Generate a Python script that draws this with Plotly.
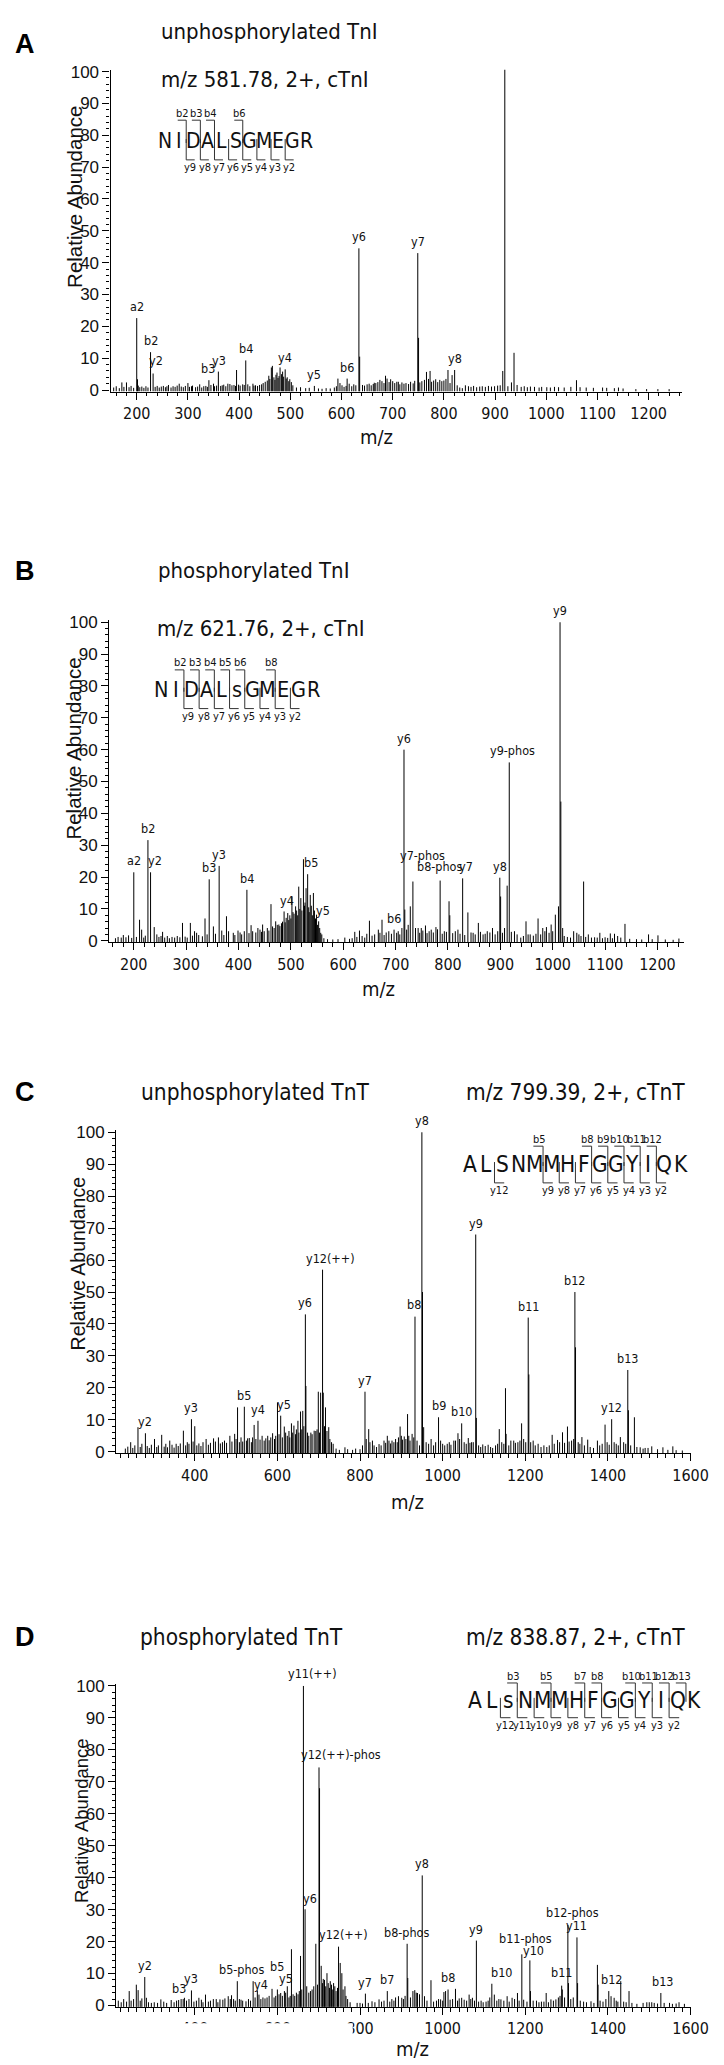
import plotly.graph_objects as go

W, H = 724, 2065
NARROW = "Liberation Sans Narrow, Arial Narrow, DejaVu Sans Condensed, Roboto Condensed, sans-serif"
ARIAL = "Liberation Sans, Arial, Helvetica, sans-serif"
INK = "#111111"

# ============================ DATA ============================
# ---------- Panel A : unphosphorylated TnI ----------
A_title = "unphosphorylated TnI"
A_prec = "m/z 581.78, 2+, cTnI"
A_seq = "NIDALSGMEGR"
A_b_ions = [2, 3, 4, 6]
A_y_ions = [9, 8, 7, 6, 5, 4, 3, 2]
A_mz = [200, 201.5, 227, 232, 341, 359.5, 395, 413, 458, 463,
        465, 480, 485, 490, 499, 547, 593, 611, 634, 635.5,
        664, 675, 686, 696, 711, 743, 749, 750.5, 766, 773,
        784, 792, 808, 816, 821, 915, 919, 932, 937, 1059]
A_int = [22.6, 3.4, 11.9, 5.2, 3.1, 5.8, 6.3, 9.3, 4.5, 7.1,
         7.6, 7.1, 5.8, 6.5, 3.4, 1.3, 3.6, 3.6, 44.5, 10.5,
         2.3, 3.2, 4.5, 3.4, 2.6, 2.9, 43.0, 16.4, 5.7, 6.0,
         3.4, 3.2, 6.3, 4.7, 6.3, 6.0, 101.0, 2.4, 11.7, 3.1]
A_noise_mz = [155, 160, 166, 171, 175, 180, 185, 189, 194, 203,
              206, 210, 214, 218, 222, 236, 240, 244, 248, 252,
              256, 259, 262, 267, 271, 275, 279, 283, 287, 291,
              295, 300, 303, 307, 309, 315, 319, 323, 327, 331,
              335, 338, 345, 350, 352, 356, 364, 367, 370, 374,
              378, 382, 386, 390, 393, 399, 402, 407, 410, 417,
              421, 427, 429, 432, 436, 440, 444, 447, 451, 455,
              460, 468, 470, 472, 474, 476, 478, 483, 487, 492,
              494, 497, 502, 505, 512, 520, 530, 537, 555, 562,
              570, 578, 586, 590, 597, 601, 605, 609, 615, 620,
              624, 628, 641, 645, 650, 654, 658, 662, 667, 671,
              679, 683, 689, 693, 700, 704, 708, 714, 718, 722,
              726, 731, 735, 740, 753, 757, 762, 770, 776, 780,
              788, 796, 800, 804, 812, 826, 831, 836, 842, 848,
              853, 858, 864, 870, 875, 881, 887, 893, 899, 905,
              910, 925, 943, 951, 957, 963, 969, 977, 986, 991,
              1001, 1008, 1016, 1024, 1035, 1048, 1066, 1078, 1092, 1110,
              1118, 1133, 1141, 1150, 1175, 1196, 1218, 1240]
A_noise_int = [0.8, 1.2, 0.6, 2.4, 1.0, 2.4, 0.9, 1.3, 0.7, 1.4,
               0.9, 1.1, 0.7, 1.2, 0.8, 1.0, 1.3, 0.8, 1.1, 1.3,
               0.9, 1.2, 1.6, 0.8, 1.2, 1.0, 1.4, 2.0, 1.1, 0.9,
               1.3, 2.2, 1.0, 1.2, 1.4, 0.9, 1.1, 1.8, 0.8, 1.2,
               1.3, 1.0, 1.6, 2.0, 1.2, 1.4, 1.3, 1.5, 1.7, 1.2,
               2.0, 1.9, 1.5, 1.6, 1.3, 1.7, 1.4, 1.8, 1.6, 1.8,
               1.2, 2.0, 1.4, 1.5, 1.3, 1.6, 1.8, 2.2, 2.6, 3.0,
               3.5, 4.0, 3.2, 4.8, 5.5, 3.8, 4.4, 5.0, 4.2, 3.6,
               4.0, 2.8, 2.5, 1.5, 0.8, 0.9, 0.6, 0.7, 0.5, 0.4,
               0.6, 0.5, 0.8, 1.2, 2.2, 1.5, 1.0, 1.3, 2.0, 1.2,
               1.8, 1.5, 1.6, 1.4, 1.8, 2.0, 1.5, 1.9, 2.2, 2.5,
               2.8, 2.2, 3.6, 2.5, 2.8, 2.2, 2.6, 1.8, 2.4, 2.0,
               2.2, 1.9, 2.6, 2.1, 2.4, 2.8, 3.2, 3.5, 2.6, 3.0,
               2.5, 2.8, 3.0, 3.5, 2.2, 1.5, 0.8, 0.6, 1.5, 1.2,
               1.0, 1.3, 0.9, 1.1, 1.2, 1.0, 1.3, 1.1, 1.2, 1.4,
               1.5, 1.2, 1.6, 1.0, 1.2, 0.9, 1.1, 1.0, 0.8, 1.0,
               0.9, 0.8, 1.0, 0.9, 0.8, 1.0, 0.9, 0.8, 0.7, 0.8,
               0.7, 0.6, 0.8, 0.5, 0.3, 0.3, 0.3, 0.3]
A_lab_mz = [200, 227, 232, 341, 359.5, 413, 490, 547, 611, 634, 749, 821, 919]
A_lab_txt = ["a2", "b2", "y2", "b3", "y3", "b4", "y4", "y5", "b6", "y6", "y7", "y8", "y9"]
A_xticks = [200, 300, 400, 500, 600, 700, 800, 900, 1000, 1100, 1200]

# ---------- Panel B : phosphorylated TnI ----------
B_title = "phosphorylated TnI"
B_prec = "m/z 621.76, 2+, cTnI"
B_seq = "NIDALsGMEGR"
B_b_ions = [2, 3, 4, 5, 6, 8]
B_y_ions = [9, 8, 7, 6, 5, 4, 3, 2]
B_mz = [200, 211, 215, 227, 232, 239, 255, 293, 308, 316,
        336, 344, 363, 377, 399, 416, 424, 437, 446, 462,
        471, 477, 487, 494, 502, 509, 515, 519, 524, 529,
        532, 537, 543, 549, 553, 559, 622, 631, 650, 667,
        674, 687, 697, 708, 716, 717.5, 728, 733, 743, 749,
        757, 768, 777, 785, 793, 802, 803.5, 814, 819, 828,
        838, 848, 858, 867, 875, 885, 899, 900.5, 908, 913,
        917, 927, 939, 949, 957, 972, 981, 988, 997, 1005,
        1011, 1014, 1015.5, 1019, 1040, 1046, 1059, 1068, 1080, 1090,
        1100, 1110, 1118, 1124, 1138, 1183, 1201, 1241]
B_int = [21.5, 6.6, 3.5, 31.6, 21.5, 4.3, 2.8, 5.6, 5.6, 3.0,
         7.0, 19.3, 23.5, 7.7, 3.2, 16.0, 4.9, 4.0, 5.1, 11.5,
         6.1, 5.1, 9.2, 8.7, 13.9, 10.8, 17.0, 13.4, 25.6, 16.5,
         20.9, 14.4, 15.0, 8.2, 6.1, 2.0, 2.8, 3.2, 6.3, 3.5,
         6.6, 3.0, 3.5, 2.0, 60.0, 9.8, 10.8, 18.6, 4.0, 4.0,
         4.8, 3.5, 4.3, 18.9, 3.0, 12.4, 8.0, 3.0, 3.5, 19.6,
         8.9, 2.5, 5.6, 2.0, 3.0, 4.0, 19.8, 13.9, 4.0, 17.3,
         56.0, 3.0, 1.0, 6.1, 2.0, 7.0, 4.0, 4.3, 5.1, 8.2,
         10.8, 100.0, 43.7, 4.0, 3.0, 2.5, 18.6, 2.0, 1.1, 2.5,
         1.1, 2.3, 2.2, 1.5, 5.3, 2.0, 1.7, 0.7]
B_noise_mz = [165, 170, 176, 180, 185, 190, 196, 205, 219, 222,
              244, 248, 252, 259, 264, 268, 273, 278, 283, 288,
              298, 302, 312, 320, 324, 331, 340, 352, 356, 368,
              372, 381, 390, 393, 403, 406, 411, 420, 427, 433,
              441, 444, 449, 455, 458, 465, 468, 474, 479, 482,
              484, 489, 491, 496, 498, 500, 504, 506, 511, 513,
              517, 521, 526, 527, 534, 535, 539, 541, 545, 547,
              551, 555, 557, 563, 570, 580, 590, 603, 612, 617,
              626, 636, 641, 645, 655, 660, 670, 678, 682, 692,
              702, 705, 712, 721, 724, 738, 746, 752, 760, 764,
              772, 780, 789, 797, 809, 823, 832, 844, 852, 862,
              871, 880, 890, 895, 904, 921, 932, 944, 953, 963,
              968, 977, 985, 993, 1000, 1022, 1028, 1034, 1050, 1054,
              1063, 1074, 1085, 1095, 1105, 1114, 1130, 1147, 1160, 1170,
              1190, 1215, 1230]
B_noise_int = [0.8, 1.2, 1.0, 1.8, 1.1, 1.7, 0.9, 1.2, 1.0, 1.6,
               2.0, 1.2, 1.5, 1.0, 1.5, 0.8, 1.2, 1.0, 1.5, 1.1,
               1.3, 1.0, 1.6, 2.5, 1.8, 1.4, 2.0, 4.5, 2.2, 3.2,
               1.8, 3.0, 2.5, 1.8, 2.6, 2.0, 3.0, 2.4, 3.0, 2.6,
               3.5, 2.8, 3.0, 4.0, 3.2, 4.5, 4.0, 5.0, 4.6, 5.5,
               6.0, 5.8, 7.2, 6.5, 8.0, 7.0, 9.0, 8.5, 9.5, 8.0,
               10.0, 9.5, 11.0, 12.0, 10.5, 9.0, 11.0, 8.0, 9.5, 7.0,
               5.0, 4.0, 2.5, 0.8, 0.5, 0.4, 0.5, 1.0, 0.6, 0.8,
               1.2, 1.5, 1.0, 2.2, 1.6, 2.0, 2.5, 1.8, 2.6, 2.2,
               2.5, 3.0, 4.0, 3.5, 5.0, 4.0, 2.5, 3.2, 2.4, 3.0,
               2.6, 3.6, 2.2, 2.8, 2.4, 2.2, 1.8, 2.6, 2.0, 2.8,
               2.2, 2.6, 2.0, 3.0, 2.5, 2.8, 2.0, 1.5, 2.0, 1.6,
               2.2, 2.0, 3.0, 2.5, 3.0, 1.5, 1.2, 1.0, 2.0, 1.5,
               1.2, 1.0, 1.0, 0.8, 0.9, 0.8, 1.0, 0.6, 0.5, 0.4,
               0.5, 0.4, 0.3]
B_lab_mz = [200, 227, 232, 344, 363, 416, 487, 532, 553, 697, 716, 733, 785, 828, 899, 917, 1014]
B_lab_txt = ["a2", "b2", "y2", "b3", "y3", "b4", "y4", "b5", "y5", "b6", "y6",
             "y7-phos", "b8-phos", "y7", "y8", "y9-phos", "y9"]
B_xticks = [200, 300, 400, 500, 600, 700, 800, 900, 1000, 1100, 1200]

# ---------- Panel C : unphosphorylated TnT ----------
C_title = "unphosphorylated TnT"
C_prec = "m/z 799.39, 2+, cTnT"
C_seq = "ALSNMMHFGGYIQK"
C_b_ions = [5, 8, 9, 10, 11, 12]
C_y_ions = [12, 9, 8, 7, 6, 5, 4, 3, 2]
C_mz = [245, 262.6, 280.6, 302.6, 320, 339.5, 355, 372.5, 392, 400,
        427.5, 445.5, 457.3, 485, 496.6, 503.6, 520, 532, 543.7, 553,
        563, 576.6, 588.4, 600.2, 608, 616.7, 634, 640, 649.7, 656,
        661.4, 667.7, 669, 681, 689, 699, 704.6, 709.3, 711, 716.4,
        724.3, 763.5, 789.4, 812, 821, 830, 858, 866, 877.4, 897,
        907, 915, 926, 933, 949.7, 951.2, 954, 972, 990, 995,
        1011, 1027, 1037, 1046, 1062, 1070, 1080, 1081.5, 1097, 1121,
        1137, 1152, 1153.5, 1172, 1182, 1191, 1207, 1208.5, 1219, 1231,
        1265, 1278, 1290, 1302, 1320, 1321.5, 1337, 1351, 1374.5, 1393,
        1409, 1430, 1448, 1449.5, 1464, 1478, 1490, 1506, 1533, 1557]
C_int = [3.0, 7.7, 5.8, 4.0, 5.3, 3.5, 2.5, 6.6, 10.2, 8.0,
         4.0, 4.2, 4.5, 5.0, 5.6, 13.9, 14.1, 4.3, 8.4, 9.7,
         5.0, 5.0, 5.8, 15.4, 11.3, 7.9, 8.9, 8.2, 9.7, 12.6,
         12.8, 43.0, 20.6, 6.0, 6.6, 18.8, 18.5, 57.0, 18.5, 13.9,
         7.7, 1.4, 1.0, 18.8, 7.1, 3.5, 3.5, 5.0, 3.5, 7.9,
         4.8, 11.8, 5.6, 42.3, 100.0, 50.0, 7.7, 4.0, 10.8, 3.5,
         2.5, 3.5, 5.8, 8.9, 4.3, 3.0, 68.0, 10.6, 2.3, 1.2,
         7.1, 19.9, 5.6, 3.5, 3.0, 8.9, 42.0, 24.2, 3.5, 2.5,
         5.3, 3.7, 6.1, 7.9, 50.0, 32.7, 4.6, 3.8, 3.5, 8.5,
         10.2, 4.6, 25.6, 13.0, 10.8, 1.4, 1.2, 1.7, 1.4, 1.7]
C_noise_mz = [232, 238, 250, 255, 268, 272, 285, 290, 295, 308,
              312, 326, 330, 334, 345, 350, 360, 365, 378, 382,
              386, 396, 405, 410, 415, 420, 433, 438, 450, 462,
              467, 472, 477, 490, 500, 508, 512, 516, 525, 528,
              537, 540, 548, 558, 568, 572, 580, 584, 593, 596,
              604, 612, 620, 624, 628, 630, 637, 644, 646, 652,
              659, 664, 673, 676, 684, 693, 696, 702, 714, 720,
              727, 731, 735, 742, 750, 770, 782, 800, 806, 815,
              824, 834, 840, 846, 851, 862, 870, 874, 882, 886,
              890, 893, 900, 903, 911, 918, 921, 930, 938, 944,
              960, 966, 978, 983, 1000, 1005, 1016, 1020, 1031, 1041,
              1052, 1057, 1066, 1074, 1087, 1092, 1103, 1110, 1116, 1128,
              1133, 1143, 1148, 1160, 1165, 1176, 1187, 1196, 1201, 1213,
              1224, 1238, 1245, 1252, 1258, 1270, 1283, 1295, 1306, 1312,
              1317, 1328, 1332, 1343, 1357, 1365, 1380, 1386, 1398, 1403,
              1415, 1420, 1425, 1438, 1443, 1455, 1470, 1485, 1497, 1520,
              1545, 1565, 1580]
C_noise_int = [1.0, 1.6, 1.2, 2.0, 1.5, 2.5, 1.8, 1.2, 2.2, 1.5,
               2.0, 1.6, 2.5, 1.4, 2.2, 1.3, 1.8, 2.6, 2.0, 3.0,
               2.5, 3.2, 2.0, 2.6, 1.8, 3.0, 2.2, 2.8, 3.2, 2.6,
               3.0, 3.5, 2.8, 3.2, 4.0, 3.0, 4.5, 3.2, 3.5, 4.2,
               3.0, 4.5, 4.0, 3.8, 3.5, 4.2, 3.6, 4.5, 4.0, 5.0,
               5.5, 4.5, 6.0, 5.0, 6.5, 4.5, 6.0, 5.5, 7.0, 6.0,
               7.0, 8.0, 6.0, 5.0, 5.5, 6.5, 7.0, 6.0, 8.0, 6.5,
               4.0, 3.0, 2.5, 1.0, 0.6, 0.8, 0.6, 0.8, 2.0, 4.0,
               3.0, 2.0, 1.5, 2.4, 2.0, 2.8, 3.5, 2.6, 3.0, 4.0,
               3.0, 4.5, 5.0, 3.8, 4.0, 5.0, 3.5, 4.5, 3.5, 2.0,
               3.0, 2.5, 2.0, 3.0, 2.5, 2.0, 3.0, 2.2, 3.5, 4.0,
               3.0, 2.5, 2.8, 3.0, 2.0, 1.5, 1.8, 2.2, 1.5, 2.0,
               2.5, 3.0, 2.5, 2.0, 3.5, 2.8, 3.5, 4.0, 3.0, 3.0,
               2.0, 1.5, 2.0, 1.5, 2.0, 2.5, 3.0, 2.8, 3.2, 3.5,
               4.0, 3.0, 2.5, 2.0, 1.5, 1.2, 2.0, 2.5, 3.0, 2.2,
               3.0, 2.5, 2.0, 3.0, 2.5, 2.0, 1.5, 1.0, 1.2, 0.8,
               0.6, 0.5, 0.4]
C_lab_mz = [280.6, 392, 520, 553, 608, 667.7, 709.3, 812, 933, 949.7, 990, 1046, 1080,
            1207, 1320, 1409, 1448]
C_lab_txt = ["y2", "y3", "b5", "y4", "y5", "y6", "y12(++)", "y7", "b8", "y8", "b9", "b10", "y9",
             "b11", "b12", "y12", "b13"]
C_xticks = [400, 600, 800, 1000, 1200, 1400, 1600]

# ---------- Panel D : phosphorylated TnT ----------
D_title = "phosphorylated TnT"
D_prec = "m/z 838.87, 2+, cTnT"
D_seq = "ALsNMMHFGGYIQK"
D_b_ions = [3, 5, 7, 8, 10, 11, 12, 13]
D_y_ions = [12, 11, 10, 9, 8, 7, 6, 5, 4, 3, 2]
D_mz = [241.4, 258.6, 263, 279, 283, 318, 343, 361, 367, 375,
        392, 410, 426, 445, 461, 481, 489, 503, 524, 541.3,
        551.5, 555.4, 587, 600, 608, 617, 624, 634, 656, 663,
        667, 693, 697, 700.7, 702, 706, 711, 720, 728, 736,
        745.5, 748, 752, 756, 763.5, 793, 813, 829, 846, 866,
        893, 901, 914, 915.5, 928, 932.5, 939, 950.5, 956, 971.7,
        995, 1007, 1013, 1031, 1046, 1064, 1072, 1081.6, 1093, 1105,
        1119, 1125, 1141, 1156, 1168, 1181, 1191.6, 1211, 1212.5, 1227,
        1239, 1250.5, 1262, 1274, 1288, 1289.5, 1303, 1304.5, 1325, 1326.5,
        1341, 1359, 1374.5, 1376, 1402, 1407.5, 1415, 1431, 1451, 1494,
        1506, 1528, 1549, 1572]
D_int = [4.5, 6.5, 4.8, 8.9, 2.4, 1.9, 1.7, 1.7, 2.0, 2.4,
         4.7, 2.4, 3.4, 2.0, 1.9, 2.9, 3.2, 7.6, 1.3, 7.6,
         4.7, 3.4, 5.2, 5.0, 3.9, 4.5, 6.0, 17.6, 15.5, 100.0,
         30.1, 19.3, 6.5, 74.5, 68.0, 12.4, 8.3, 10.1, 7.6, 7.0,
         5.5, 18.4, 13.3, 10.1, 6.0, 0.8, 3.7, 1.3, 1.9, 4.5,
         2.9, 2.4, 19.3, 8.6, 4.5, 4.8, 3.9, 40.7, 2.9, 7.9,
         1.9, 4.5, 5.0, 5.2, 2.4, 3.4, 2.4, 20.3, 1.5, 1.2,
         6.8, 3.4, 1.9, 2.9, 2.4, 3.9, 16.0, 14.1, 4.5, 1.5,
         1.2, 3.9, 1.9, 1.9, 6.2, 5.0, 25.2, 7.0, 21.3, 7.0,
         1.2, 1.3, 12.7, 6.5, 4.5, 2.9, 2.4, 7.6, 4.5, 1.0,
         1.0, 3.9, 0.8, 1.0]
D_noise_mz = [215, 222, 228, 235, 246, 252, 268, 272, 288, 295,
              302, 310, 325, 332, 350, 356, 372, 380, 386, 398,
              404, 416, 420, 433, 438, 452, 456, 468, 473, 486,
              494, 498, 508, 512, 516, 530, 535, 546, 560, 565,
              570, 575, 580, 592, 596, 604, 612, 620, 628, 631,
              638, 642, 646, 650, 653, 659, 671, 676, 680, 684,
              688, 709, 714, 717, 723, 726, 731, 734, 739, 742,
              759, 766, 770, 776, 800, 806, 820, 836, 852, 858,
              872, 877, 882, 886, 905, 909, 922, 936, 944, 962,
              978, 985, 990, 1000, 1003, 1018, 1024, 1036, 1040, 1052,
              1058, 1068, 1077, 1087, 1098, 1110, 1114, 1131, 1136, 1148,
              1161, 1174, 1185, 1196, 1204, 1219, 1233, 1245, 1256, 1268,
              1280, 1284, 1295, 1310, 1316, 1333, 1348, 1366, 1381, 1388,
              1395, 1420, 1424, 1438, 1444, 1458, 1470, 1485, 1500, 1512,
              1520, 1536, 1556, 1565, 1585]
D_noise_int = [1.5, 1.0, 2.0, 1.2, 1.5, 2.0, 1.5, 2.2, 1.0, 0.8,
               1.0, 0.8, 1.2, 0.8, 1.0, 1.5, 2.0, 1.5, 2.0, 1.2,
               1.5, 1.8, 1.0, 1.2, 1.5, 2.0, 1.0, 1.8, 2.2, 2.0,
               2.0, 1.5, 2.0, 1.8, 1.5, 2.0, 1.5, 2.5, 2.0, 2.5,
               2.2, 2.5, 3.0, 2.5, 3.0, 3.5, 3.0, 4.0, 2.5, 3.0,
               3.5, 3.0, 4.0, 3.5, 4.5, 5.0, 6.0, 4.0, 4.5, 5.0,
               6.0, 7.0, 8.0, 6.0, 7.0, 5.5, 6.5, 5.0, 6.0, 4.5,
               5.0, 3.0, 2.0, 1.0, 0.8, 0.6, 0.8, 1.0, 1.2, 1.5,
               1.2, 2.0, 1.5, 2.5, 2.0, 3.0, 2.5, 4.0, 3.5, 1.5,
               1.2, 1.5, 2.0, 1.5, 4.2, 1.8, 2.0, 1.5, 2.2, 1.8,
               1.5, 2.0, 1.5, 1.2, 1.0, 1.5, 2.5, 1.5, 2.0, 1.5,
               1.2, 2.0, 1.5, 1.8, 1.2, 1.5, 1.0, 1.2, 1.0, 1.5,
               2.5, 3.0, 2.5, 2.0, 2.5, 1.5, 1.0, 0.8, 1.5, 1.2,
               2.0, 1.5, 1.2, 1.2, 1.0, 0.8, 0.5, 0.8, 1.0, 0.8,
               0.6, 0.8, 0.5, 0.6, 0.5]
D_lab_mz = [279, 361, 392, 503, 551.5, 600, 617, 663, 667, 700.7, 748, 813, 866, 914,
            950.5, 1013, 1081.6, 1119, 1191.6, 1211, 1288, 1303, 1325, 1402, 1528]
D_lab_txt = ["y2", "b3", "y3", "b5-phos", "y4", "b5", "y5", "y11(++)", "y6", "y12(++)-phos",
             "y12(++)", "y7", "b7", "b8-phos", "y8", "b8", "y9", "b10", "b11-phos", "y10",
             "b11", "b12-phos", "y11", "b12", "b13"]
D_xticks = [400, 600, 800, 1000, 1200, 1400, 1600]

Y_ticks = [0, 10, 20, 30, 40, 50, 60, 70, 80, 90, 100]

# ============================ LAYOUT / STYLE ============================
PANELS = {
    "A": dict(mz=A_mz, it=A_int, nmz=A_noise_mz, nit=A_noise_int, lmz=A_lab_mz, ltx=A_lab_txt,
              seq=A_seq, b=A_b_ions, y=A_y_ions, title=A_title, prec=A_prec, xt=A_xticks),
    "B": dict(mz=B_mz, it=B_int, nmz=B_noise_mz, nit=B_noise_int, lmz=B_lab_mz, ltx=B_lab_txt,
              seq=B_seq, b=B_b_ions, y=B_y_ions, title=B_title, prec=B_prec, xt=B_xticks),
    "C": dict(mz=C_mz, it=C_int, nmz=C_noise_mz, nit=C_noise_int, lmz=C_lab_mz, ltx=C_lab_txt,
              seq=C_seq, b=C_b_ions, y=C_y_ions, title=C_title, prec=C_prec, xt=C_xticks),
    "D": dict(mz=D_mz, it=D_int, nmz=D_noise_mz, nit=D_noise_int, lmz=D_lab_mz, ltx=D_lab_txt,
              seq=D_seq, b=D_b_ions, y=D_y_ions, title=D_title, prec=D_prec, xt=D_xticks),
}

GEO = {
    "A": dict(xr=(149, 1266), xcal=((200, 132.0), (1200, 657.0)), y0=378, y100=57, mdt=20,
              letter=(17, 29), title=(155, 17), prec=(155, 65), ts=22,
              ylab=(68, 183, 20.5),
              seq=dict(x0=161, dx=14.5, yb=99, yl=127, yy=154, fs=21), xlab=(378, 425)),
    "B": dict(xr=(153, 1250), xcal=((200, 129.0), (1200, 666.0)), y0=933, y100=612, mdt=20,
              letter=(17, 560), title=(152, 560), prec=(151, 618), ts=22,
              ylab=(67, 739, 20.5),
              seq=dict(x0=157, dx=15.6, yb=653, yl=680, yy=707, fs=21.5), xlab=(380, 982)),
    "C": dict(xr=(210, 1600), xcal=((210, 111.0), (1600, 700.0)), y0=1448, y100=1126, mdt=20,
              letter=(17, 1085), title=(134, 1085), prec=(468, 1085), ts=22.5,
              ylab=(72, 1259, 19.5),
              seq=dict(x0=474, dx=16.6, yb=1133, yl=1158, yy=1185, fs=22.5), xlab=(410, 1499)),
    "D": dict(xr=(210, 1600), xcal=((210, 111.0), (1600, 700.0)), y0=2006, y100=1684, mdt=20,
              letter=(17, 1635), title=(133, 1635), prec=(468, 1635), ts=22.5,
              ylab=(76, 1820, 18.5),
              seq=dict(x0=479, dx=17.3, yb=1674, yl=1698, yy=1724, fs=22.5), xlab=(415, 2050)),
}

LABEL_SHIFT = {
    "A": {"y2": (3, 4), "b3": (-1, 2), "y3": (1, 2), "y9": (6, 2)},
    "B": {"y2": (4, 2), "y4": (3, 1), "b5": (3, 2), "y5": (4, 1), "y7-phos": (10, 17),
          "b8-phos": (0, 5), "y7": (3, 2), "y9-phos": (3, 2)},
    "C": {"y5": (3, 2), "y12(++)": (8, 2), "b8": (-1, 3)},
    "D": {"b5-phos": (5, 2), "y4": (4, -4), "b5": (0, 13), "y5": (2, 3), "y11(++)": (9, 3),
          "y6": (5, 1), "y12(++)-phos": (22, 3), "y12(++)": (5, 3), "b10": (10, 2),
          "b11-phos": (4, 6), "y10": (4, 0), "b11": (0, 4), "b12-phos": (5, 3), "b12": (3, 2),
          "b13": (2, 2)},
}

YR = (-0.45, 100.6)
BASE = YR[0]


def px(x):
    return x / W


def py(y):
    return 1 - y / H


fig = go.Figure()
annotations = []
shapes = []

for i, key in enumerate(["A", "B", "C", "D"], start=1):
    d = PANELS[key]
    g = GEO[key]
    xa = "x" if i == 1 else f"x{i}"
    ya = "y" if i == 1 else f"y{i}"

    # ---- domains from pixel calibration ----
    (m1, p1), (m2, p2) = g["xcal"]
    ppu = (p2 - p1) / (m2 - m1)
    left = p1 + (g["xr"][0] - m1) * ppu
    right = p1 + (g["xr"][1] - m1) * ppu
    ypu = (g["y0"] - g["y100"]) / 100.0
    top = g["y0"] - YR[1] * ypu
    bottom = g["y0"] - YR[0] * ypu

    # ---- stick spectrum ----
    xs, ys = [], []
    for m, h in list(zip(d["nmz"], d["nit"])) + list(zip(d["mz"], d["it"])):
        xs += [m, m, None]
        ys += [BASE, h, None]
    fig.add_trace(go.Scatter(x=xs, y=ys, mode="lines", line=dict(color="#000000", width=1),
                             xaxis=xa, yaxis=ya, hoverinfo="skip", showlegend=False))

    axis_common = dict(showline=True, linecolor="#000000", linewidth=1.3, ticks="outside",
                       tickcolor="#000000", tickwidth=1.2, showgrid=False, zeroline=False,
                       fixedrange=True)
    fig.update_layout(**{
        ("xaxis" if i == 1 else f"xaxis{i}"): dict(
            axis_common, domain=[px(left), px(right)], range=list(g["xr"]), anchor=ya,
            tickmode="array", tickvals=d["xt"], ticktext=[str(v) for v in d["xt"]], ticklen=7,
            minor=dict(dtick=g["mdt"], tick0=0, ticks="outside", ticklen=3.5, tickcolor="#000000",
                       tickwidth=1),
            tickfont=dict(family=NARROW, size=16, color=INK)),
        ("yaxis" if i == 1 else f"yaxis{i}"): dict(
            axis_common, domain=[py(bottom), py(top)], range=list(YR), anchor=xa,
            tickmode="array", tickvals=Y_ticks, ticklen=7,
            minor=dict(dtick=2, tick0=0, ticks="outside", ticklen=3.5, tickcolor="#000000",
                       tickwidth=1),
            tickfont=dict(family=ARIAL, size=17, color=INK)),
    })

    # ---- peak labels ----
    shifts = LABEL_SHIFT.get(key, {})
    for m, t in zip(d["lmz"], d["ltx"]):
        h = max(v for mm, v in zip(d["mz"], d["it"]) if abs(mm - m) < 0.8)
        sx, sy = shifts.get(t, (0, 2))
        annotations.append(dict(x=m, y=min(h, 101), xref=xa, yref=ya, text=t, showarrow=False,
                                xanchor="center", yanchor="bottom", xshift=sx, yshift=sy,
                                font=dict(family=NARROW, size=12.5, color=INK)))

    # ---- panel letter, titles ----
    annotations.append(dict(x=px(g["letter"][0]), y=py(g["letter"][1]), xref="paper", yref="paper",
                            text=f"<b>{key}</b>", showarrow=False, xanchor="center", yanchor="middle",
                            font=dict(family=ARIAL, size=27, color="#000000")))
    for txt, pos in ((d["title"], g["title"]), (d["prec"], g["prec"])):
        annotations.append(dict(x=px(pos[0]), y=py(pos[1]), xref="paper", yref="paper", text=txt,
                                showarrow=False, xanchor="left", yanchor="middle",
                                font=dict(family=NARROW, size=g["ts"], color=INK)))

    # ---- axis titles ----
    lx, ly, lsz = g["ylab"]
    annotations.append(dict(x=px(lx), y=py(ly), xref="paper",
                            yref="paper", text="Relative Abundance", textangle=-90, showarrow=False,
                            xanchor="center", yanchor="middle",
                            font=dict(family=ARIAL, size=lsz, color=INK)))
    annotations.append(dict(x=px(g["xlab"][0]), y=py(g["xlab"][1]), xref="paper", yref="paper",
                            text="m/z", showarrow=False, xanchor="center", yanchor="middle",
                            font=dict(family=NARROW, size=20, color=INK)))

    # ---- sequence with fragment brackets ----
    s = g["seq"]
    n = len(d["seq"])
    for k, ch in enumerate(d["seq"]):
        annotations.append(dict(x=px(s["x0"] + k * s["dx"]), y=py(s["yl"]), xref="paper",
                                yref="paper", text=ch, showarrow=False, xanchor="center",
                                yanchor="middle", font=dict(family=NARROW, size=s["fs"], color=INK)))
    btop = s["yb"] + 7
    ybot = s["yy"] - 8
    line_style = dict(color="#333333", width=1)
    for bi in d["b"]:
        cx = s["x0"] + (bi - 0.5) * s["dx"]
        shapes.append(dict(type="line", xref="paper", yref="paper", x0=px(cx - 0.6 * s["dx"]),
                           x1=px(cx), y0=py(btop), y1=py(btop), line=line_style))
        shapes.append(dict(type="line", xref="paper", yref="paper", x0=px(cx), x1=px(cx),
                           y0=py(btop), y1=py(s["yl"] + 2), line=line_style))
        annotations.append(dict(x=px(cx - 0.25 * s["dx"]), y=py(s["yb"]), xref="paper",
                                yref="paper", text=f"b{bi}", showarrow=False, xanchor="center",
                                yanchor="middle", font=dict(family=NARROW, size=11, color=INK)))
    for yi in d["y"]:
        cx = s["x0"] + (n - yi - 0.5) * s["dx"]
        shapes.append(dict(type="line", xref="paper", yref="paper", x0=px(cx), x1=px(cx),
                           y0=py(s["yl"] - 2), y1=py(ybot), line=line_style))
        shapes.append(dict(type="line", xref="paper", yref="paper", x0=px(cx),
                           x1=px(cx + 0.6 * s["dx"]), y0=py(ybot), y1=py(ybot), line=line_style))
        annotations.append(dict(x=px(cx + 0.3 * s["dx"]), y=py(s["yy"]), xref="paper",
                                yref="paper", text=f"y{yi}", showarrow=False, xanchor="center",
                                yanchor="middle", font=dict(family=NARROW, size=11, color=INK)))

# white patch partially hiding some tick labels of panel D (as in the original figure)
shapes.append(dict(type="rect", xref="paper", yref="paper", x0=px(176), x1=px(353.5),
                   y0=py(2040), y1=py(2024), fillcolor="#ffffff", line=dict(width=0), layer="above"))

fig.update_layout(width=W, height=H, margin=dict(l=0, r=0, t=0, b=0), autosize=False,
                  paper_bgcolor="#ffffff", plot_bgcolor="#ffffff", showlegend=False,
                  annotations=annotations, shapes=shapes)

fig.write_html("out.html")
